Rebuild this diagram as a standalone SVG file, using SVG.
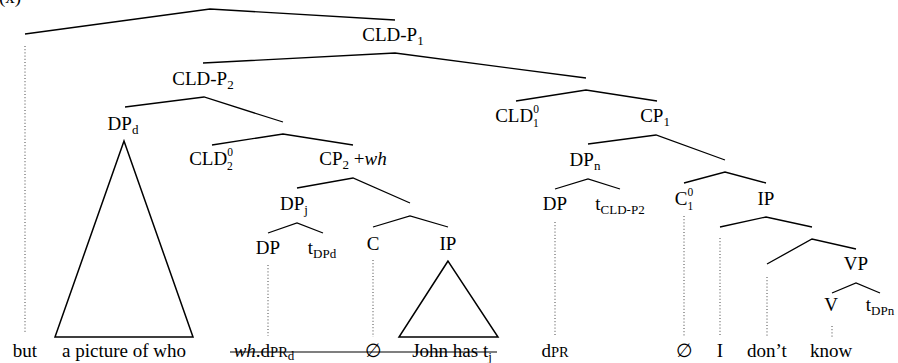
<svg xmlns="http://www.w3.org/2000/svg" width="898" height="363" viewBox="0 0 898 363">
<style>
text{font-family:"Liberation Serif","Times New Roman",serif;font-size:19px;fill:#000;text-anchor:middle}
.sub{font-size:13px}
.st{font-size:11.5px}
.sc{font-size:14.5px}
.e{stroke:#000;stroke-width:1.3;fill:none}
.d{stroke:#444;stroke-width:1;stroke-dasharray:1 2.2;fill:none}
.tri{stroke:#000;stroke-width:1.5;fill:none}
.strike{stroke:#000;stroke-width:1.1}
</style>
<rect width="898" height="363" fill="#fff"/>
<text x="10" y="3">(x)</text>
<g id="connectors">
<path class="e" d="M25,34 L210,9 L395,20"/>
<path class="e" d="M203,63 L395,53 L586,78"/>
<path class="e" d="M125,107 L204,97 L283,122"/>
<path class="e" d="M212,145 L283,134 L353,145"/>
<path class="e" d="M297,188 L353,178 L410,203"/>
<path class="e" d="M268,233 L297,223 L323,233"/>
<path class="e" d="M373,227 L410,216 L448,227"/>
<path class="e" d="M516,101 L586,90 L657,101"/>
<path class="e" d="M588,144 L656,135 L725,160"/>
<path class="e" d="M555,189 L588,179 L620,189"/>
<path class="e" d="M684,183 L725,172 L766,183"/>
<path class="e" d="M720,227 L766,217 L812,227"/>
<path class="e" d="M767,264 L812,239 L856,249"/>
<path class="e" d="M832,293 L856,283 L880,293"/>
<path class="tri" d="M124,141 L55,337 L193,337 Z"/>
<path class="tri" d="M448,261 L399,337 L498,337 Z"/>
<path class="d" d="M25,46 V334"/>
<path class="d" d="M268,265 V336"/>
<path class="d" d="M373,260 V337"/>
<path class="d" d="M555,222 V337"/>
<path class="d" d="M684,216 V336"/>
<path class="d" d="M720,238 V337"/>
<path class="d" d="M767,277 V337"/>
<path class="d" d="M832,326 V337"/>
</g>
<g id="n-but"><text x="25" y="357">but</text></g>
<g id="n-cldp1"><text x="393" y="41">CLD-P<tspan class="sub" dy="4">1</tspan></text></g>
<g id="n-cldp2"><text x="203" y="85">CLD-P<tspan class="sub" dy="4">2</tspan></text></g>
<g id="n-dpd"><text x="123" y="130">DP<tspan class="sub" dy="4">d</tspan></text></g>
<g id="n-picture"><text x="124" y="357">a picture of who</text></g>
<g id="n-cld2"><text x="211" y="165">CLD<tspan class="st" dy="-9">0</tspan><tspan class="st" dx="-5.8" dy="14">2</tspan></text></g>
<g id="n-cp2"><text x="353" y="165">CP<tspan class="sub" dy="4">2</tspan><tspan dy="-4"> +</tspan><tspan font-style="italic">wh</tspan></text></g>
<g id="n-dpj"><text x="294" y="210">DP<tspan class="sub" dy="4">j</tspan></text></g>
<g id="n-dp1"><text x="268" y="254">DP</text></g>
<g id="n-tdpd"><text x="322" y="254">t<tspan class="sub" dy="4">DPd</tspan></text></g>
<g id="n-c"><text x="373" y="250">C</text></g>
<g id="n-ip2"><text x="448" y="250">IP</text></g>
<g id="n-whdpr"><text x="264" y="357"><tspan font-style="italic">wh</tspan>.d<tspan class="sc">PR</tspan><tspan class="sub" dy="3">d</tspan></text></g>
<g id="n-empty1"><text x="373" y="357">∅</text></g>
<g id="n-john"><text x="452" y="357">John has t<tspan class="sub" dy="4">j</tspan></text></g>
<line class="strike" x1="230" y1="352" x2="497" y2="352"/>
<g id="n-cld1"><text x="517" y="122">CLD<tspan class="st" dy="-9">0</tspan><tspan class="st" dx="-5.8" dy="14">1</tspan></text></g>
<g id="n-cp1"><text x="655" y="122">CP<tspan class="sub" dy="4">1</tspan></text></g>
<g id="n-dpn"><text x="585" y="166">DP<tspan class="sub" dy="4">n</tspan></text></g>
<g id="n-dp2"><text x="555" y="210">DP</text></g>
<g id="n-tcld"><text x="620" y="210">t<tspan class="sub" dy="4">CLD-P2</tspan></text></g>
<g id="n-dpr"><text x="555" y="357">d<tspan class="sc">PR</tspan></text></g>
<g id="n-c1"><text x="684" y="205">C<tspan class="st" dy="-9">0</tspan><tspan class="st" dx="-5.8" dy="14">1</tspan></text></g>
<g id="n-ip1"><text x="766" y="205">IP</text></g>
<g id="n-empty2"><text x="684" y="357">∅</text></g>
<g id="n-i"><text x="720" y="357">I</text></g>
<g id="n-dont"><text x="767" y="357">don’t</text></g>
<g id="n-vp"><text x="856" y="270">VP</text></g>
<g id="n-v"><text x="831" y="311">V</text></g>
<g id="n-tdpn"><text x="880" y="311">t<tspan class="sub" dy="4">DPn</tspan></text></g>
<g id="n-know"><text x="831" y="357">know</text></g>
</svg>
